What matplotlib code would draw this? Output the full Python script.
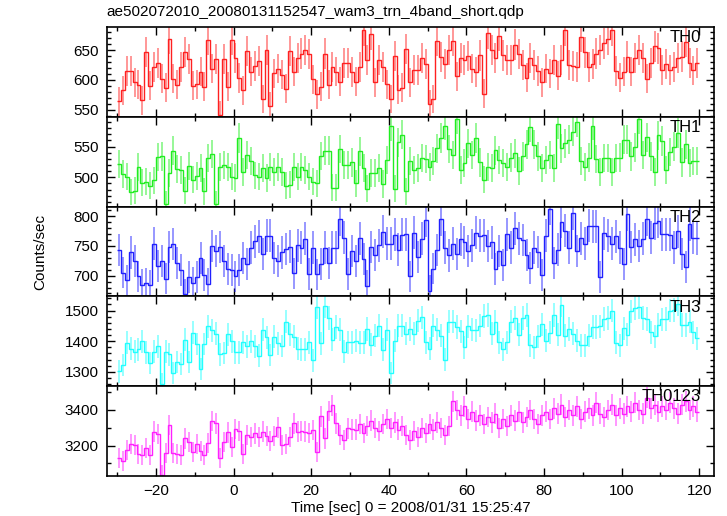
import numpy as np
import matplotlib
matplotlib.use('Agg')
import matplotlib.pyplot as plt
from matplotlib.ticker import MultipleLocator

plt.rcParams['font.family'] = ['Liberation Sans', 'DejaVu Sans']

# 1-s bins from -30 s to +120 s
bin_edges = np.arange(-30, 121)

th0 = [564, 583, 615, 615, 596, 592, 566, 647, 590, 621,
       629, 602, 587, 669, 602, 592, 621, 647, 635, 590,
       593, 614, 589, 667, 619, 635, 542, 635, 589, 667,
       636, 603, 583, 648, 614, 624, 631, 568, 650, 556,
       611, 619, 609, 585, 648, 614, 636, 644, 650, 643,
       601, 576, 589, 644, 592, 621, 614, 597, 628, 628,
       613, 597, 622, 683, 633, 676, 596, 634, 622, 593,
       568, 640, 584, 587, 652,
       596, 617, 617, 636, 626, 559, 568, 665, 638, 626,
       650, 665, 606, 637, 633, 640, 619, 613, 641, 577,
       678, 650, 636, 674, 641, 634, 634, 659, 643, 625,
       604, 637, 625, 615, 596, 619, 611, 633, 607, 633,
       683, 625, 624, 621, 672, 646, 622, 626, 644, 650,
       661, 668, 683, 615, 604, 614, 639, 614, 636, 650,
       636, 602, 628, 656, 653, 617, 626, 617, 621, 636,
       639, 664, 629, 616, 628]

th1 = [521, 505, 501, 476, 478, 516, 491, 493, 486, 495,
       533, 534, 456, 507, 543, 514, 512, 478, 519, 496,
       502, 515, 477, 531, 538, 456, 517, 520, 517, 501,
       499, 564, 509, 536, 526, 503, 501, 515, 499, 516,
       509, 516, 508, 486, 488, 516, 501, 517, 512, 501,
       493, 490, 535, 543, 543, 483, 483, 546, 520, 520,
       524, 490, 542, 515, 481, 507, 507, 515, 489, 528,
       583, 481, 557, 569, 477,
       527, 512, 515, 531, 530, 516, 526, 547, 564, 584,
       546, 536, 595, 512, 523, 555, 536, 564, 524, 496,
       517, 515, 544, 528, 523, 516, 532, 539, 510, 534,
       554, 581, 553, 534, 515, 528, 536, 515, 586, 547,
       555, 561, 574, 590, 526, 517, 532, 584, 530, 509,
       531, 531, 509, 531, 532, 561, 561, 534, 549, 595,
       536, 565, 534, 509, 568, 559, 512, 541, 550, 572,
       524, 554, 523, 526, 527]

th2 = [743, 705, 692, 739, 724, 699, 685, 687, 684, 754,
       716, 724, 695, 748, 753, 722, 709, 669, 698, 688,
       698, 729, 701, 686, 750, 742, 748, 725, 711, 709,
       699, 709, 729, 719, 747, 758, 766, 736, 767, 767,
       730, 725, 739, 745, 749, 704, 751, 747, 762, 703,
       747, 702, 720, 747, 722, 747, 747, 795, 764, 703,
       742, 725, 763, 728, 683, 748, 735, 751, 774, 754,
       754, 769, 744, 769, 770,
       699, 772, 731, 762, 793, 675, 712, 743, 795, 747,
       734, 754, 737, 761, 756, 742, 751, 772, 767, 768,
       750, 756, 711, 742, 718, 770, 747, 780, 763, 760,
       735, 713, 747, 740, 701, 767, 813, 722, 744, 791,
       776, 747, 806, 742, 763, 754, 784, 783, 783, 698,
       771, 767, 754, 766, 747, 720, 804, 748, 761, 750,
       762, 795, 764, 788, 792, 770, 770, 769, 747, 775,
       737, 715, 787, 764, 763]

th3 = [1301, 1321, 1395, 1375, 1366, 1373, 1399, 1364, 1328, 1366,
       1383, 1261, 1366, 1357, 1296, 1332, 1326, 1404, 1332, 1427,
       1391, 1308, 1391, 1448, 1435, 1424, 1357, 1361, 1422, 1399,
       1364, 1364, 1397, 1383, 1399, 1383, 1353, 1437, 1413, 1355,
       1415, 1393, 1384, 1464, 1422, 1415, 1375, 1373, 1373, 1397,
       1337, 1511, 1393, 1516, 1475, 1405, 1446, 1438, 1366, 1397,
       1397, 1402, 1395, 1395, 1440, 1389, 1418, 1451, 1372, 1438,
       1296, 1402, 1451, 1451, 1425,
       1440, 1424, 1467, 1478, 1397, 1375, 1451, 1438, 1418, 1340,
       1464, 1464, 1446, 1432, 1380, 1448, 1438, 1435, 1451, 1482,
       1486, 1424, 1462, 1397, 1373, 1397, 1464, 1475, 1421, 1475,
       1486, 1386, 1380, 1416, 1455, 1402, 1427, 1486, 1421, 1518,
       1418, 1440, 1424, 1402, 1386, 1386, 1418, 1446, 1446, 1449,
       1473, 1475, 1500, 1395, 1386, 1442, 1421, 1497, 1508, 1511,
       1475, 1473, 1429, 1416, 1453, 1471, 1473, 1500, 1503, 1522,
       1453, 1453, 1464, 1429, 1410]

th0123 = [3128, 3113, 3175, 3208, 3203, 3152, 3147, 3184, 3147, 3278,
          3264, 3035, 3156, 3315, 3160, 3152, 3147, 3240, 3222, 3165,
          3208, 3169, 3147, 3216, 3339, 3324, 3128, 3222, 3274, 3193,
          3293, 3283, 3152, 3259, 3246, 3268, 3250, 3278, 3253, 3225,
          3253, 3302, 3203, 3207, 3246, 3324, 3278, 3283, 3278, 3272,
          3287, 3165, 3365, 3240, 3395, 3427, 3324, 3259, 3231, 3296, 3291,
          3290, 3320, 3270, 3310, 3340, 3300, 3280, 3320, 3350, 3300,
          3330, 3290, 3310, 3260, 3230, 3280, 3250, 3300, 3270, 3320,
          3290, 3330, 3300, 3260, 3310, 3450, 3400, 3370, 3420, 3350,
          3390, 3340, 3370, 3320, 3360, 3330, 3380, 3300, 3350, 3310,
          3370, 3340, 3390, 3330, 3360, 3400, 3350, 3320, 3370, 3390,
          3350, 3410, 3380, 3430, 3360, 3400, 3370, 3420, 3350, 3390,
          3410, 3370, 3440, 3380, 3360, 3400, 3430, 3370, 3410, 3380,
          3420, 3390, 3440, 3400, 3380, 3470, 3410, 3430, 3390, 3420,
          3400, 3440, 3410, 3380, 3430, 3450, 3400, 3420, 3390]

names = ['TH0', 'TH1', 'TH2', 'TH3', 'TH0123']
series = [th0, th1, th2, th3, th0123]
colors = ['#ff2020', '#20ee20', '#2020ff', '#20ffff', '#ff20ff']
ylims = [(538, 688), (452, 598), (665, 816), (1253, 1546), (3029, 3534)]
majors = [50, 50, 50, 100, 200]
minors = [10, 10, 10, 20, 100]

fig = plt.figure(figsize=(7.27, 5.16), dpi=100)
axes = fig.subplots(5, 1, sharex=True, gridspec_kw=dict(hspace=0))
fig.subplots_adjust(left=0.1472, right=0.9821, bottom=0.0777, top=0.9471)

centers = bin_edges[:-1] + 0.5
for ax, name, vals, col, yl, mj, mn in zip(axes, names, series, colors, ylims, majors, minors):
    v = np.asarray(vals, dtype=float)
    err = np.sqrt(v)
    ax.vlines(centers, v - err, v + err, color=col, lw=1.3, alpha=0.5)
    ax.stairs(v, bin_edges, color=col, lw=1.0, baseline=None)
    ax.set_ylim(*yl)
    ax.set_xlim(-32.6, 123.8)
    ax.yaxis.set_major_locator(MultipleLocator(mj))
    ax.yaxis.set_minor_locator(MultipleLocator(mn))
    ax.xaxis.set_major_locator(MultipleLocator(20))
    ax.xaxis.set_minor_locator(MultipleLocator(10))
    ax.tick_params(which='both', direction='in', top=True, right=True,
                   labelsize=11, width=1.0)
    ax.tick_params(which='major', length=6, pad=6)
    ax.tick_params(which='minor', length=3)
    for s in ax.spines.values():
        s.set_linewidth(1.2)
    ax.text(0.978, 0.965, name, transform=ax.transAxes, ha='right', va='top',
            fontsize=12)

fig.text(0.147, 0.977, 'ae502072010_20080131152547_wam3_trn_4band_short.qdp',
         ha='left', va='center', fontsize=11)
fig.text(0.055, 0.5126, 'Counts/sec', rotation=90, ha='center', va='center',
         fontsize=11)
fig.text(0.5647, 0.0155, 'Time [sec] 0 = 2008/01/31 15:25:47', ha='center',
         va='center', fontsize=11)

fig.savefig('out.png', dpi=100)
